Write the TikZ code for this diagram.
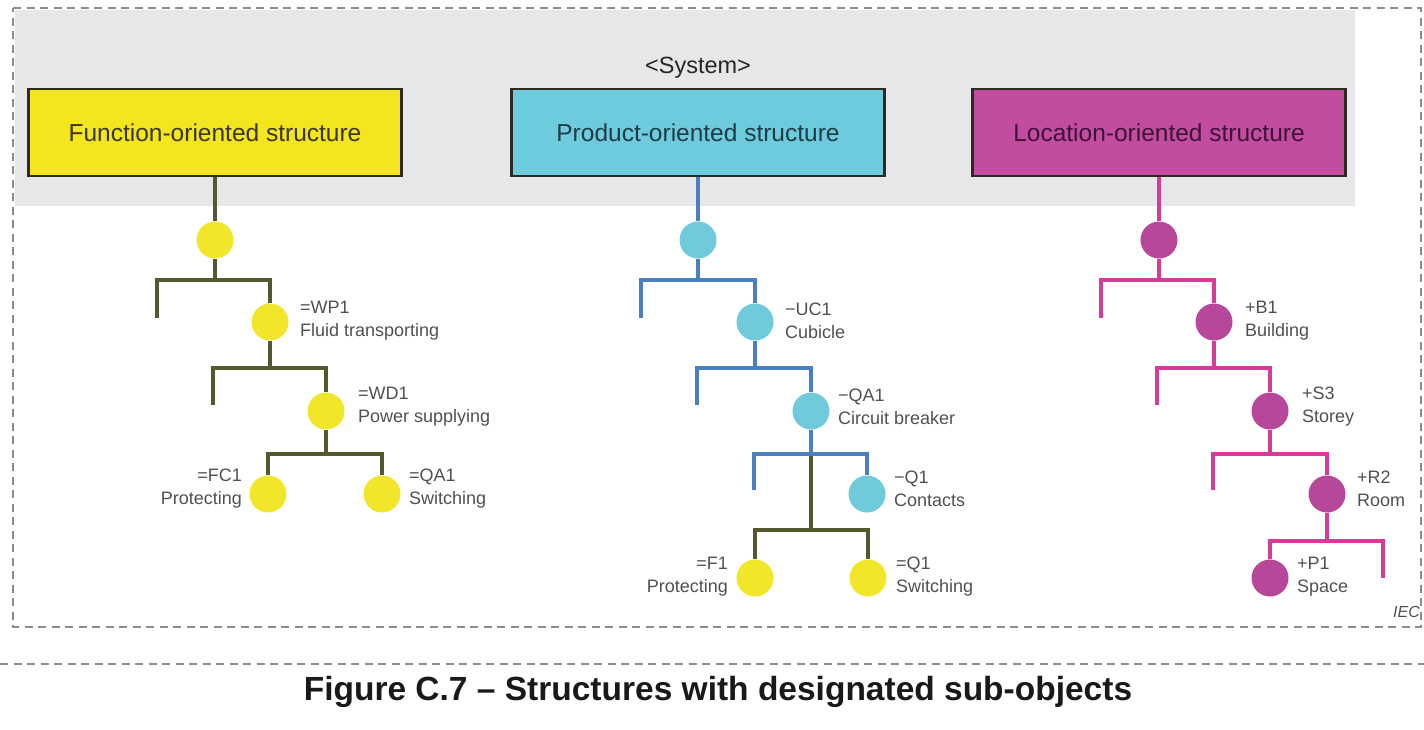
\documentclass[tikz,border=0pt]{standalone}
\usepackage{fontspec}
\setmainfont{Liberation Sans}
\definecolor{bggray}{HTML}{E6E7E8}
\definecolor{framegray}{HTML}{8C8C8C}
\definecolor{boxborder}{HTML}{2E2A22}
\definecolor{fyellow}{HTML}{F3E51E}
\definecolor{dyellow}{HTML}{F1E62A}
\definecolor{fcyan}{HTML}{6DCBDD}
\definecolor{dcyan}{HTML}{6FCADB}
\definecolor{fmag}{HTML}{C24DA0}
\definecolor{dmag}{HTML}{B6479A}
\definecolor{oline}{HTML}{55582F}
\definecolor{bline}{HTML}{4A80C2}
\definecolor{mline}{HTML}{D83A9A}
\definecolor{lblgray}{HTML}{505050}
\definecolor{ftext}{HTML}{3A3618}
\definecolor{ptext}{HTML}{1E3C46}
\definecolor{ltext}{HTML}{3E1236}
\begin{document}
\begin{tikzpicture}[x=1pt,y=-1pt,
  box/.style={draw=boxborder, line width=2.5pt, minimum width=373pt, minimum height=87pt, inner sep=0pt, font=\fontsize{24.5}{29}\selectfont},
  dot/.style={circle, minimum size=37pt, inner sep=0pt},
  lbl/.style={font=\fontsize{18}{23}\selectfont, text=lblgray, inner sep=0pt},
  lbll/.style={lbl, anchor=west, align=left},
  lblr/.style={lbl, anchor=east, align=right},
  oln/.style={draw=oline, line width=4pt, line join=miter},
  bln/.style={draw=bline, line width=4pt, line join=miter},
  mln/.style={draw=mline, line width=4pt, line join=miter},
  frame/.style={draw=framegray, line width=2.5pt, dash pattern=on 8pt off 5.5pt}
]
\useasboundingbox (0,0) rectangle (1424,729);
% background and frames
\fill[bggray] (15,10) rectangle (1355,206);
\draw[frame] (13,8) -- (1421,8) -- (1421,627) -- (13,627) -- cycle;
\draw[frame] (0,664) -- (1424,664);

\node[font=\fontsize{23.5}{28}\selectfont, text=black!85] (sys) at (698,68) {<System>};

% boxes
\node[box, fill=fyellow, text=ftext] (F) at (215,132.5) {Function-oriented structure};
\node[box, fill=fcyan, text=ptext] (P) at (698,132.5) {Product-oriented structure};
\node[box, fill=fmag, text=ltext] (L) at (1159,132.5) {Location-oriented structure};

% ---- function tree
\node[dot, fill=dyellow] (f0) at (215,240) {};
\node[dot, fill=dyellow] (f1) at (270,322) {};
\node[dot, fill=dyellow] (f2) at (326,411) {};
\node[dot, fill=dyellow] (f3) at (268,494) {};
\node[dot, fill=dyellow] (f4) at (382,494) {};
\coordinate (fa) at (215,280); \coordinate (fl1) at (157,280); \coordinate (fl1e) at (157,318); \coordinate (fr1) at (270,280);
\coordinate (fb) at (270,368); \coordinate (fl2) at (213,368); \coordinate (fl2e) at (213,405); \coordinate (fr2) at (326,368);
\coordinate (fc) at (326,454); \coordinate (fl3) at (268,454); \coordinate (fr3) at (382,454);
\draw[oln] (F.south -| f0) -- (f0);
\draw[oln] (f0) -- (fa);
\draw[oln] (fl1e) -- (fl1) -- (fr1) -- (f1);
\draw[oln] (f1) -- (fb);
\draw[oln] (fl2e) -- (fl2) -- (fr2) -- (f2);
\draw[oln] (f2) -- (fc);
\draw[oln] (f3) -- (fl3) -- (fr3) -- (f4);

\node[lbll] (tf1) at (300,321) {=WP1\\Fluid transporting};
\node[lbll] (tf2) at (358,407) {=WD1\\Power supplying};
\node[lblr] (tf3) at (242,489) {=FC1\\Protecting};
\node[lbll] (tf4) at (409,489) {=QA1\\Switching};

% ---- product tree
\node[dot, fill=dcyan] (p0) at (698,240) {};
\node[dot, fill=dcyan] (p1) at (755,322) {};
\node[dot, fill=dcyan] (p2) at (811,411) {};
\node[dot, fill=dcyan] (p3) at (867,494) {};
\node[dot, fill=dyellow] (p4) at (755,578) {};
\node[dot, fill=dyellow] (p5) at (868,578) {};
\coordinate (pa) at (698,280); \coordinate (pl1) at (641,280); \coordinate (pl1e) at (641,318); \coordinate (pr1) at (755,280);
\coordinate (pb) at (755,368); \coordinate (pl2) at (697,368); \coordinate (pl2e) at (697,405); \coordinate (pr2) at (811,368);
\coordinate (pc) at (811,454); \coordinate (pl3) at (754,454); \coordinate (pl3e) at (754,490); \coordinate (pr3) at (867,454);
\coordinate (pd) at (811,530); \coordinate (pl4) at (755,530); \coordinate (pr4) at (868,530);
\draw[bln] (P.south -| p0) -- (p0);
\draw[bln] (p0) -- (pa);
\draw[bln] (pl1e) -- (pl1) -- (pr1) -- (p1);
\draw[bln] (p1) -- (pb);
\draw[bln] (pl2e) -- (pl2) -- (pr2) -- (p2);
\draw[bln] (p2) -- (pc);
\draw[oln] (pc) -- (pd);
\draw[bln] (pl3e) -- (pl3) -- (pr3) -- (p3);
\draw[oln] (p4) -- (pl4) -- (pr4) -- (p5);

\node[lbll] (tp1) at (785,321) {−UC1\\Cubicle};
\node[lbll] (tp2) at (838,407) {−QA1\\Circuit breaker};
\node[lbll] (tp3) at (894,489) {−Q1\\Contacts};
\node[lblr] (tp4) at (728,577) {=F1\\Protecting};
\node[lbll] (tp5) at (896,577) {=Q1\\Switching};

% ---- location tree
\node[dot, fill=dmag] (l0) at (1159,240) {};
\node[dot, fill=dmag] (l1) at (1214,322) {};
\node[dot, fill=dmag] (l2) at (1270,411) {};
\node[dot, fill=dmag] (l3) at (1327,494) {};
\node[dot, fill=dmag] (l4) at (1270,578) {};
\coordinate (la) at (1159,280); \coordinate (ll1) at (1101,280); \coordinate (ll1e) at (1101,318); \coordinate (lr1) at (1214,280);
\coordinate (lb) at (1214,368); \coordinate (ll2) at (1157,368); \coordinate (ll2e) at (1157,405); \coordinate (lr2) at (1270,368);
\coordinate (lc) at (1270,454); \coordinate (ll3) at (1213,454); \coordinate (ll3e) at (1213,490); \coordinate (lr3) at (1327,454);
\coordinate (ld) at (1327,541); \coordinate (ll4) at (1270,541); \coordinate (lr4) at (1383,541); \coordinate (lr4e) at (1383,578);
\draw[mln] (L.south -| l0) -- (l0);
\draw[mln] (l0) -- (la);
\draw[mln] (ll1e) -- (ll1) -- (lr1) -- (l1);
\draw[mln] (l1) -- (lb);
\draw[mln] (ll2e) -- (ll2) -- (lr2) -- (l2);
\draw[mln] (l2) -- (lc);
\draw[mln] (ll3e) -- (ll3) -- (lr3) -- (l3);
\draw[mln] (l3) -- (ld);
\draw[mln] (l4) -- (ll4) -- (lr4) -- (lr4e);

\node[lbll] (tl1) at (1245,321) {+B1\\Building};
\node[lbll] (tl2) at (1302,407) {+S3\\Storey};
\node[lbll] (tl3) at (1357,489) {+R2\\Room};
\node[lbll] (tl4) at (1297,577) {+P1\\Space};

\node[anchor=west, inner sep=0pt, font=\itshape\fontsize{16}{19}\selectfont, text=lblgray] (iec) at (1393,612) {IEC};

\node[font=\bfseries\fontsize{33.5}{40}\selectfont, text=black!90] (cap) at (718,692) {Figure C.7 – Structures with designated sub-objects};
\end{tikzpicture}
\end{document}
